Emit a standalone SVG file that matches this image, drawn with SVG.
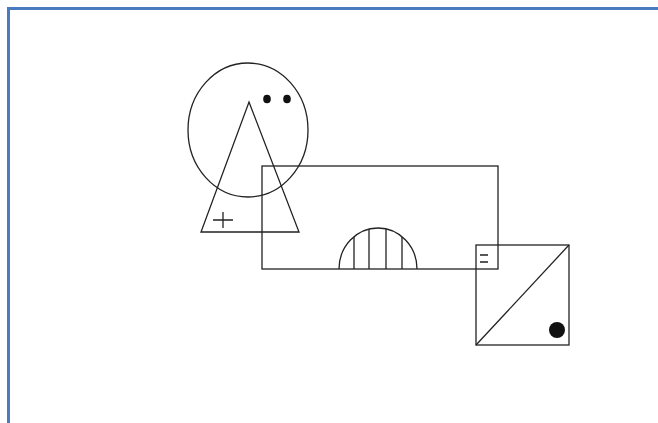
<svg xmlns="http://www.w3.org/2000/svg" width="658" height="423" viewBox="0 0 658 423">
<style>
.ln{fill:none;stroke:#222;stroke-width:1.3}
.dot{fill:#111}
.frame{stroke:#4a7bc0;stroke-width:3;fill:none}
</style>
<rect width="658" height="423" fill="#fff"/>
<path class="frame" d="M8.5,423 V8.5 H658"/>
<g id="face">
<ellipse class="ln" cx="248" cy="130" rx="60" ry="67"/>
<ellipse class="dot" cx="267" cy="99" rx="3.8" ry="4.3"/>
<ellipse class="dot" cx="287" cy="99" rx="3.8" ry="4.3"/>
</g>
<g id="triangle">
<path class="ln" d="M249,102 L299,232 L201,232 Z"/>
<path class="ln" d="M213,220 H233 M223,212 V228"/>
</g>
<g id="rectangle">
<rect class="ln" x="262" y="166" width="236" height="103"/>
</g>
<g id="dome">
<path class="ln" d="M339,269 A39,41 0 0 1 417,269"/>
<path class="ln" d="M354,269 V237 M369,269 V229 M386,269 V229 M402,269 V237"/>
</g>
<g id="square">
<rect class="ln" x="476" y="245" width="93" height="100"/>
<path class="ln" d="M476,345 L569,245"/>
<path class="ln" d="M480,255 H488 M480,262 H488"/>
<circle class="dot" cx="557" cy="330" r="8"/>
</g>
</svg>
